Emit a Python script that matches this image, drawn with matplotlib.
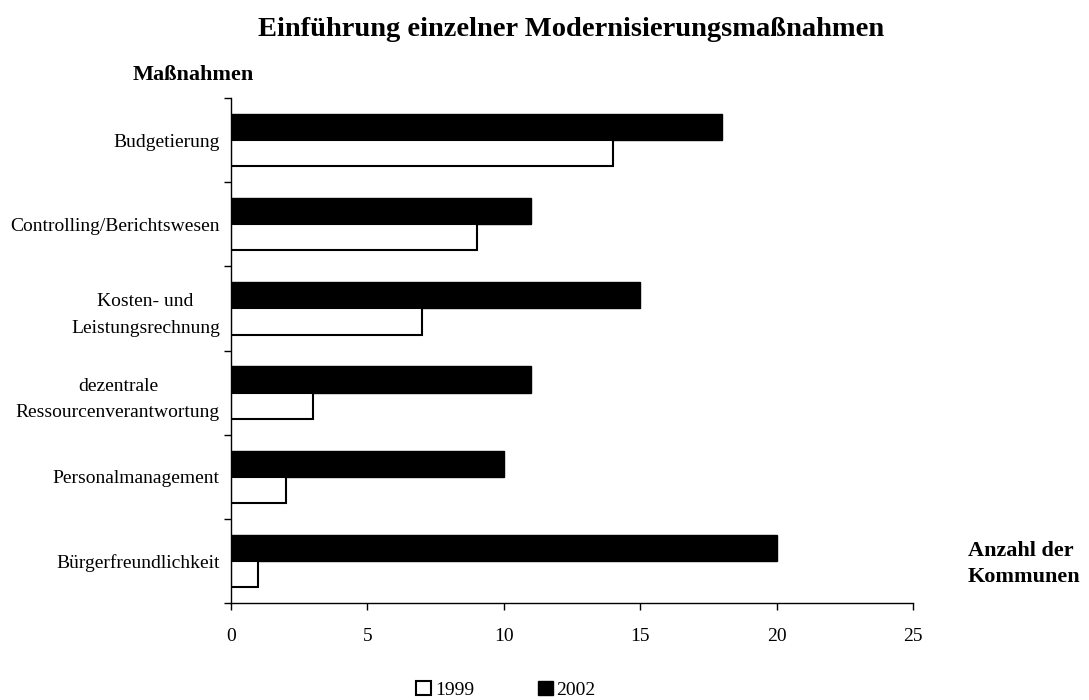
import numpy as np
import matplotlib.pyplot as plt
from matplotlib.patches import Patch

plt.rcParams['font.family'] = ['Liberation Serif', 'DejaVu Serif']

# Maßnahmen (top to bottom) and counts of municipalities
massnahmen = [
    "Budgetierung",
    "Controlling/Berichtswesen",
    "Kosten- und\nLeistungsrechnung",
    "dezentrale\nRessourcenverantwortung",
    "Personalmanagement",
    "Bürgerfreundlichkeit",
]
werte_1999 = [14, 9, 7, 3, 2, 1]
werte_2002 = [18, 11, 15, 11, 10, 20]

fig = plt.figure(figsize=(10.89, 7.0), dpi=100)
ax = fig.add_axes([231 / 1089, 1 - 603 / 700, (913 - 231) / 1089, (603 - 98) / 700])

y = np.arange(len(massnahmen))
h = 0.31
ax.barh(y - h / 2, werte_2002, height=h, color="black", edgecolor="black", linewidth=1)
ax.barh(y + h / 2, werte_1999, height=h, color="white", edgecolor="black", linewidth=1.5)

ax.set_xlim(0, 25)
ax.set_ylim(len(massnahmen) - 0.5, -0.5)
ax.set_xticks(range(0, 26, 5))

ax.set_yticks(y)
ax.set_yticklabels(massnahmen, fontsize=14, multialignment="center", linespacing=1.75)
ax.tick_params(axis="y", which="major", length=0, pad=8)
ax.set_yticks(np.arange(-0.5, len(massnahmen)), minor=True)
ax.tick_params(axis="y", which="minor", length=5, width=1)
ax.tick_params(axis="x", length=5, width=1, labelsize=14, pad=13)

for side in ["top", "right"]:
    ax.spines[side].set_visible(False)
for side in ["left", "bottom"]:
    ax.spines[side].set_linewidth(1)

fig.text(571 / 1089, 1 - 30 / 700, "Einführung einzelner Modernisierungsmaßnahmen",
         ha="center", va="center", fontsize=20.5, fontweight="bold")
fig.text(193 / 1089, 1 - 75 / 700, "Maßnahmen", ha="center", va="center",
         fontsize=16, fontweight="bold")
fig.text(968 / 1089, 1 - 564 / 700, "Anzahl der\nKommunen", ha="left", va="center",
         fontsize=16, fontweight="bold", linespacing=1.4)

handles = [Patch(facecolor="white", edgecolor="black", linewidth=1.5, label="1999"),
           Patch(facecolor="black", edgecolor="black", label="2002")]
fig.legend(handles=handles, loc="center", bbox_to_anchor=(506 / 1089, 1 - 690 / 700),
           ncol=2, frameon=False, fontsize=14, handlelength=0.75, handleheight=0.75,
           handletextpad=0.2, columnspacing=3.3)

fig.savefig("out.png", dpi=100)
